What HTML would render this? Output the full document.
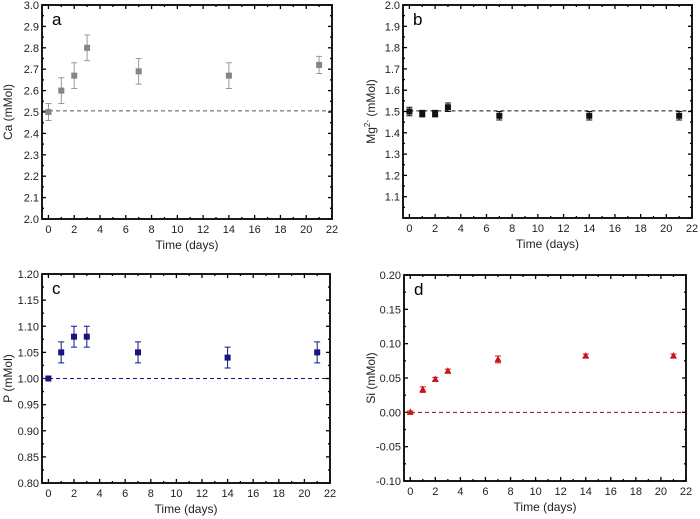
<!DOCTYPE html>
<html><head><meta charset="utf-8"><style>
body{margin:0;background:#fff;width:700px;height:519px;overflow:hidden}
svg{display:block;font-family:"Liberation Sans",Arial,sans-serif}
</style></head><body>
<svg id="fig" width="700" height="519"></svg>
<script>
const days = [0, 1, 2, 3, 7, 14, 21];
const caValues = [2.50, 2.60, 2.67, 2.80, 2.69, 2.67, 2.72];
const caErrors = [0.04, 0.06, 0.06, 0.06, 0.06, 0.06, 0.04];
const mgValues = [1.50, 1.49, 1.49, 1.52, 1.48, 1.48, 1.48];
const mgErrors = [0.02, 0.015, 0.015, 0.02, 0.02, 0.02, 0.02];
const pValues = [1.00, 1.05, 1.08, 1.08, 1.05, 1.04, 1.05];
const pErrors = [0.0, 0.02, 0.02, 0.02, 0.02, 0.02, 0.02];
const siValues = [0.0, 0.033, 0.048, 0.060, 0.077, 0.082, 0.082];
const siErrors = [0.002, 0.004, 0.003, 0.003, 0.005, 0.003, 0.003];
const xTickLabels = [0, 2, 4, 6, 8, 10, 12, 14, 16, 18, 20, 22];
const caTicks = [2.0, 2.1, 2.2, 2.3, 2.4, 2.5, 2.6, 2.7, 2.8, 2.9, 3.0];
const mgTicks = [1.1, 1.2, 1.3, 1.4, 1.5, 1.6, 1.7, 1.8, 1.9, 2.0];
const pTicks = [0.80, 0.85, 0.90, 0.95, 1.00, 1.05, 1.10, 1.15, 1.20];
const siTicks = [-0.10, -0.05, 0.00, 0.05, 0.10, 0.15, 0.20];

const NS = "http://www.w3.org/2000/svg";
const svg = document.getElementById('fig');
function mk(tag, attrs, parent, text) {
  const e = document.createElementNS(NS, tag);
  for (const k in attrs) e.setAttribute(k, attrs[k]);
  if (text !== undefined) e.textContent = text;
  (parent || svg).appendChild(e);
  return e;
}

function panel(cfg) {
  const g = mk('g', {});
  
  
  const X = v => cfg.l + (v - (-0.5)) / 22.5 * (cfg.r - cfg.l);
  const Y = v => cfg.b - (v - cfg.ymin) / (cfg.ymax - cfg.ymin) * (cfg.b - cfg.t);
  const ticks = mk('g', {stroke: '#000', 'stroke-width': 1.3}, g);
  
  
  for (let d = 0; d <= 22; d++) {
    const len = d % 2 === 0 ? 4 : 2;
    const x = X(d);
    mk('line', {x1: x, x2: x, y1: cfg.b, y2: cfg.b - len}, ticks);
    mk('line', {x1: x, x2: x, y1: cfg.t, y2: cfg.t + len}, ticks);
  }
  const step = cfg.ticks[1] - cfg.ticks[0];
  for (let v = cfg.ymin; v <= cfg.ymax + 1e-9; v += step / 2) {
    const major = Math.abs(Math.round((v - cfg.ymin) / step) * step - (v - cfg.ymin)) < 1e-9;
    const len = major ? 4 : 2;
    const y = Y(v);
    mk('line', {x1: cfg.l, x2: cfg.l + len, y1: y, y2: y}, ticks);
    mk('line', {x1: cfg.r, x2: cfg.r - len, y1: y, y2: y}, ticks);
  }
  xTickLabels.forEach(d => {
    const t = mk('text', {x: X(d), y: cfg.b + 14, 'font-size': 11, 'text-anchor': 'middle', fill: '#222'}, g, d);
    
    
  });
  cfg.ticks.forEach(v => {
    const t = mk('text', {x: cfg.l - 3, y: Y(v) + 4, 'font-size': 11, 'text-anchor': 'end', fill: '#222'}, g, v.toFixed(cfg.dec));
    
    
  });
  const xt = mk('text', {x: (cfg.l + cfg.r) / 2, y: cfg.b + 30, 'font-size': 12, 'text-anchor': 'middle', fill: '#222'}, g, 'Time (days)');
  
  
  const yc = (cfg.t + cfg.b) / 2;
  const yt = mk('text', {x: cfg.ytx, y: yc, 'font-size': 12, 'text-anchor': 'middle', fill: '#222', transform: `rotate(-90 ${cfg.ytx} ${yc})`}, g);
  yt.innerHTML = cfg.ytitle;
  
  
  const lt = mk('text', {x: cfg.l + 10, y: cfg.t + 20, 'font-size': 17, fill: '#000'}, g, cfg.letter);
  
  
  const ref = mk('line', {x1: cfg.refFrom !== undefined ? X(cfg.refFrom) : cfg.l, x2: cfg.r, y1: Y(cfg.ref), y2: Y(cfg.ref), stroke: cfg.refColor, 'stroke-width': 1, 'stroke-dasharray': '4,3'}, g);
  
  
  days.forEach((d, i) => {
    const x = X(d), y = Y(cfg.vals[i]);
    const e = cfg.errs[i];
    if (e > 0) {
      const eb = mk('path', {d: `M${x},${Y(cfg.vals[i] - e)}V${Y(cfg.vals[i] + e)}M${x - 3},${Y(cfg.vals[i] + e)}h6M${x - 3},${Y(cfg.vals[i] - e)}h6`, stroke: cfg.errColor, 'stroke-width': 1, fill: 'none'}, g);
      
      
    }
    let m;
    if (cfg.marker === 'tri') m = mk('path', {d: `M${x},${y - 4}L${x + 3.5},${y + 2.5}L${x - 3.5},${y + 2.5}Z`, fill: cfg.color}, g);
    else m = mk('rect', {x: x - 3, y: y - 3, width: 6, height: 6, fill: cfg.color}, g);
    
    
  });
  const frame = mk('rect', {x: cfg.l, y: cfg.t, width: cfg.r - cfg.l, height: cfg.b - cfg.t, fill: 'none', stroke: '#000', 'stroke-width': 1.8}, g);
  
  
}

panel({letter: 'a', l: 42, r: 332, t: 5, b: 219, ymin: 2.0, ymax: 3.0, ticks: caTicks, dec: 1, vals: caValues, errs: caErrors, color: '#858585', errColor: '#999', ref: 2.505, refColor: '#555', ytitle: 'Ca (mMol)', ytx: 12});
panel({letter: 'b', l: 403, r: 692, t: 5, b: 218, ymin: 1.0, ymax: 2.0, ticks: mgTicks, dec: 1, vals: mgValues, errs: mgErrors, color: '#111', errColor: '#111', ref: 1.503, refColor: '#111', refFrom: 0, ytitle: 'Mg<tspan font-size="8" dy="-5">2-</tspan><tspan dy="5"> (mMol)</tspan>', ytx: 375});
panel({letter: 'c', l: 42, r: 330, t: 274, b: 483, ymin: 0.8, ymax: 1.2, ticks: pTicks, dec: 2, vals: pValues, errs: pErrors, color: '#15157f', errColor: '#15157f', ref: 1.0, refColor: '#15157f', ytitle: 'P (mMol)', ytx: 12});
panel({letter: 'd', l: 404, r: 686, t: 275, b: 481, ymin: -0.1, ymax: 0.2, ticks: siTicks, dec: 2, vals: siValues, errs: siErrors, color: '#c8141c', errColor: '#c8141c', ref: 0.0, refColor: '#8a1010', marker: 'tri', ytitle: 'Si (mMol)', ytx: 375});
</script>
</body></html>
